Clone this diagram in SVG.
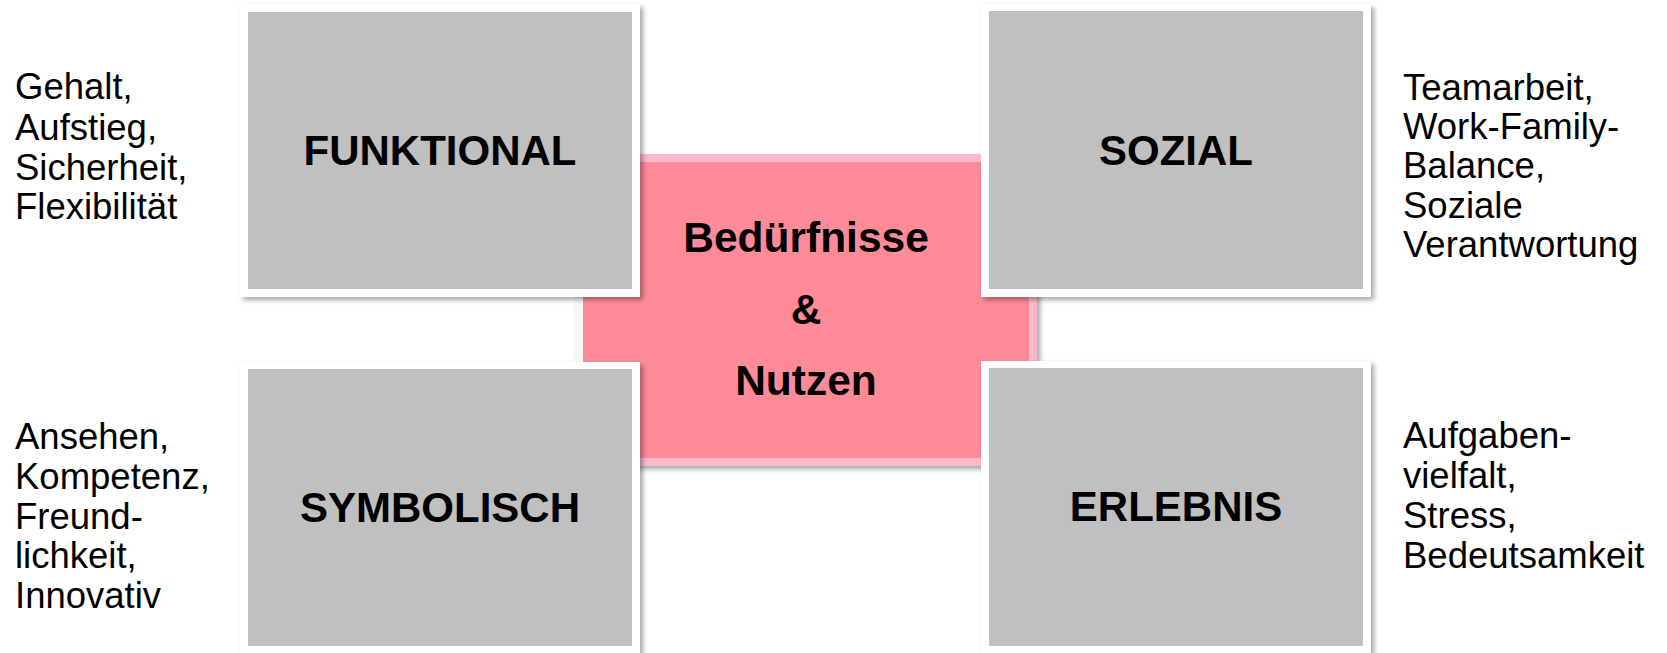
<svg xmlns="http://www.w3.org/2000/svg" width="1667" height="653" viewBox="0 0 1667 653">
<defs>
<filter id="sh" x="-5%" y="-5%" width="115%" height="115%">
<feDropShadow dx="3" dy="3" stdDeviation="2.5" flood-color="#000" flood-opacity="0.35"/>
</filter>
<style>
.frame{fill:#ffffff;filter:url(#sh);}
.gray{fill:#c0c0c0;}
.lbl{font-family:"Liberation Sans",Arial,sans-serif;font-weight:bold;font-size:42px;fill:#000;text-anchor:middle;}
.ctr{font-family:"Liberation Sans",Arial,sans-serif;font-weight:bold;font-size:42.5px;fill:#000;text-anchor:middle;}
.side{font-family:"Liberation Sans",Arial,sans-serif;font-size:36.5px;fill:#000;}
</style>
</defs>
<rect width="1667" height="653" fill="#ffffff"/>
<g id="connectors"></g>
<g id="center">
<rect x="575" y="154" width="462" height="312" fill="#ffb9cc" filter="url(#sh)"/>
<rect x="575" y="154" width="8" height="312" fill="#fbf7f8"/>
<rect x="583" y="162" width="446" height="296" fill="#ff8a98"/>
<text class="ctr" x="806" y="252">Bedürfnisse</text>
<text class="ctr" x="806" y="324">&amp;</text>
<text class="ctr" x="806" y="395">Nutzen</text>
</g>
<g id="funktional">
<rect class="frame" x="240" y="4" width="400" height="293"/>
<rect class="gray" x="248" y="12" width="384" height="277"/>
<text class="lbl" x="440" y="165">FUNKTIONAL</text>
</g>
<g id="sozial">
<rect class="frame" x="981" y="4" width="390" height="293"/>
<rect class="gray" x="989" y="11" width="374" height="278"/>
<text class="lbl" x="1176" y="165">SOZIAL</text>
</g>
<g id="symbolisch">
<rect class="frame" x="240" y="362" width="400" height="291"/>
<rect class="gray" x="248" y="369" width="384" height="277"/>
<text class="lbl" x="440" y="522">SYMBOLISCH</text>
</g>
<g id="erlebnis">
<rect class="frame" x="981" y="361" width="390" height="292"/>
<rect class="gray" x="989" y="368" width="374" height="278"/>
<text class="lbl" x="1176" y="521">ERLEBNIS</text>
</g>
<g id="text-funktional">
<text class="side" x="15" y="99">Gehalt,</text>
<text class="side" x="15" y="139.5">Aufstieg,</text>
<text class="side" x="15" y="179.5">Sicherheit,</text>
<text class="side" x="15" y="219">Flexibilität</text>
</g>
<g id="text-symbolisch">
<text class="side" x="15" y="449">Ansehen,</text>
<text class="side" x="15" y="489">Kompetenz,</text>
<text class="side" x="15" y="529">Freund-</text>
<text class="side" x="15" y="568">lichkeit,</text>
<text class="side" x="15" y="608">Innovativ</text>
</g>
<g id="text-sozial">
<text class="side" x="1403" y="100">Teamarbeit,</text>
<text class="side" x="1403" y="139">Work-Family-</text>
<text class="side" x="1403" y="178">Balance,</text>
<text class="side" x="1403" y="218">Soziale</text>
<text class="side" x="1403" y="257">Verantwortung</text>
</g>
<g id="text-erlebnis">
<text class="side" x="1403" y="448">Aufgaben-</text>
<text class="side" x="1403" y="488">vielfalt,</text>
<text class="side" x="1403" y="528">Stress,</text>
<text class="side" x="1403" y="568">Bedeutsamkeit</text>
</g>
</svg>
